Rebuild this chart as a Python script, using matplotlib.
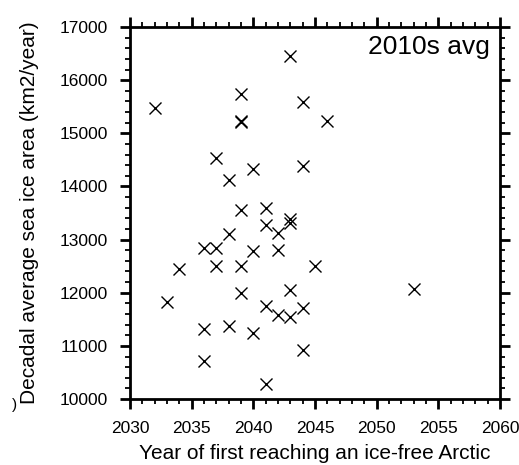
# Scatter: decadal sea ice area vs. year of first ice-free Arctic
import numpy as np
import matplotlib.pyplot as plt
from matplotlib.ticker import MultipleLocator

plt.rcParams['font.family'] = ['Liberation Sans', 'DejaVu Sans']

# one entry per ensemble member
first_ice_free_year = [
    2032, 2039, 2039, 2039, 2043, 2044, 2046, 2044, 2037, 2038,
    2040, 2039, 2041, 2041, 2043, 2043, 2042, 2042, 2038, 2036,
    2037, 2040, 2034, 2037, 2039, 2033, 2039, 2043, 2045, 2053,
    2041, 2044, 2042, 2043, 2036, 2038, 2040, 2036, 2044, 2041,
]
ice_area_2010s = [
    15470, 15210, 15240, 15740, 16460, 15580, 15240, 14390, 14540, 14120,
    14330, 13560, 13590, 13270, 13390, 13310, 13120, 12800, 13100, 12840,
    12840, 12790, 12450, 12510, 12510, 11830, 12000, 12050, 12510, 12070,
    11750, 11720, 11590, 11540, 11310, 11370, 11250, 10710, 10920, 10290,
]

fig = plt.figure(figsize=(5.19, 4.65), dpi=100)
ax = fig.add_axes([0.2505, 0.1419, 0.7129, 0.80])

ax.plot(first_ice_free_year, ice_area_2010s, linestyle='none', marker='x',
        markersize=9, markeredgewidth=1.0, color='black')

ax.set_xlim(2030, 2060)
ax.set_ylim(10000, 17000)
ax.xaxis.set_major_locator(MultipleLocator(5))
ax.xaxis.set_minor_locator(MultipleLocator(1))
ax.yaxis.set_major_locator(MultipleLocator(1000))
ax.yaxis.set_minor_locator(MultipleLocator(200))

# NCL-style frame: thick border, ticks outward on all four sides
for side in ax.spines.values():
    side.set_linewidth(2.0)
ax.tick_params(which='both', direction='out', top=True, right=True,
               labeltop=False, labelright=False)
ax.tick_params(which='major', length=7.2, width=2.0, labelsize=12.5, pad=8.5)
ax.tick_params(which='minor', length=3.8, width=1.3)

ax.set_xlabel('Year of first reaching an ice-free Arctic', fontsize=15)
ax.xaxis.set_label_coords(0.5, -0.122)
ax.set_ylabel('Decadal average sea ice area (km2/year)', fontsize=15)
ax.yaxis.set_label_coords(-0.246, 0.5)

ax.text(0.973, 0.978, '2010s avg', transform=ax.transAxes,
        ha='right', va='top', fontsize=19)

fig.text(15 / 519, 1 - 405 / 465, ')', fontsize=11, ha='center', va='center')

fig.savefig('out.png', dpi=100)
